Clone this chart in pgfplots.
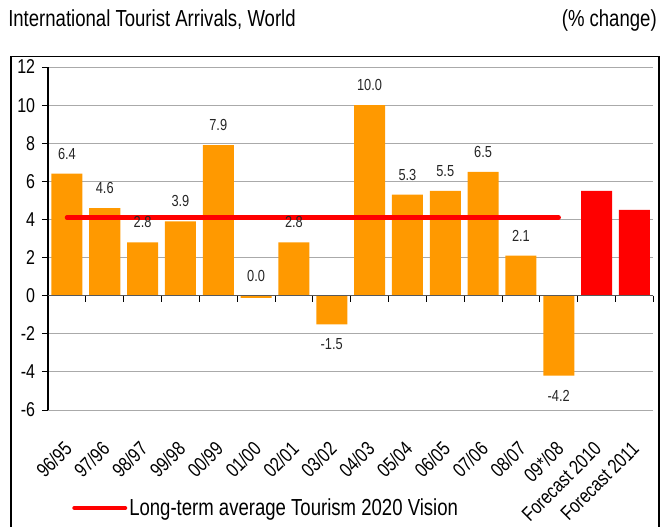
\documentclass[border=0pt]{standalone}
\usepackage{fontspec}
\setmainfont{Liberation Sans}[FakeStretch=0.8]
\usepackage{pgfplots}
\pgfplotsset{compat=1.18}
\usepackage{pgfplotstable}
\definecolor{barorange}{RGB}{255,153,0}
\definecolor{barred}{RGB}{255,0,0}
\definecolor{gridgray}{RGB}{170,170,170}

\pgfplotstableread{
x y lab
0 6.4 6.4
1 4.6 4.6
2 2.8 2.8
3 3.9 3.9
4 7.9 7.9
5 -0.12 0.0
6 2.8 2.8
7 -1.5 -1.5
8 10.0 10.0
9 5.3 5.3
10 5.5 5.5
11 6.5 6.5
12 2.1 2.1
13 -4.2 -4.2
}\arrivals
\pgfplotstableread{
x y
14 5.5
15 4.5
}\forecast
\pgfplotstableread{
x y
0 4.1
13 4.1
}\average

\begin{document}
\begin{tikzpicture}
\begin{axis}[
 at={(0,0)}, anchor=south west, scale only axis,
 width=454pt, height=257.25pt,
 xmin=-0.5, xmax=15.5, ymin=-6, ymax=12,
 ytick={-6,-4,...,12},
 xtick={0,...,15},
 xticklabels={96/95,97/96,98/97,99/98,00/99,01/00,02/01,03/02,04/03,05/04,06/05,07/06,08/07,09*/08,Forecast 2010,Forecast 2011},
 axis x line*=bottom, axis y line*=left,
 x axis line style={draw=none},
 y axis line style={black, line width=0.8pt},
 xtick style={draw=none},
 ytick style={black, line width=0.6pt},
 tick align=outside, major tick length=4.5pt,
 ymajorgrids, grid style={gridgray, line width=0.6pt},
 /pgf/number format/assume math mode=true,
 yticklabel style={font=\fontsize{15}{18}\selectfont, inner xsep=5pt},
 xticklabel style={font=\fontsize{15}{18}\selectfont, inner sep=0pt, xshift=-3pt, yshift=-18pt, rotate=45, anchor=north east},
 ybar, bar width=23.25pt, bar shift=0pt,
 clip=false,
 legend style={at={(0,0)}, anchor=west, xshift=18pt, yshift=-73.5pt, draw=none, fill=none, inner sep=0pt, font=\fontsize{17.4}{20}\selectfont, nodes={inner sep=1.5pt}},
 legend image code/.code={\draw[barred, line width=3.25pt, line cap=round] (1.6pt,0pt) -- (39.6pt,0pt);},
]
\addplot[fill=barorange, draw=none, forget plot] table[x=x,y=y]{\arrivals};
\addplot[fill=barred, draw=none, forget plot] table[x=x,y=y]{\forecast};
\addplot[draw=none, fill=none, forget plot,
  nodes near coords={\pgfmathprintnumber[fixed,fixed zerofill,precision=1]{\pgfplotspointmeta}},
  every node near coord/.append style={font=\fontsize{12}{14}\selectfont, text=black!85, inner xsep=0pt, inner ysep=10.5pt}]
  table[x=x,y=lab]{\arrivals};
\draw[black!65, line width=0.8pt] (axis cs:-0.5,0) -- (axis cs:15.5,0);
\pgfplotsinvokeforeach{-0.5,0.5,...,15.5}{\draw[black, line width=0.6pt] (axis cs:#1,0) -- ([yshift=-4.5pt]axis cs:#1,0);}
\addplot[barred, line width=3.25pt, line cap=round, sharp plot, mark=none] table[x=x,y=y]{\average};
\addlegendentry{Long-term average Tourism 2020 Vision}
\end{axis}
\node[anchor=base west, font=\fontsize{17.4}{20}\selectfont, inner sep=0pt] at (-30pt,287.25pt) {International Tourist Arrivals, World};
\node[anchor=base east, font=\fontsize{17.4}{20}\selectfont, inner sep=0pt] at (456.75pt,287.25pt) {(\% change)};
\draw[black, line width=0.9pt] (-27.75pt,-97.5pt) rectangle (458.25pt,265pt);
\pgfresetboundingbox
\useasboundingbox (-36pt,-87pt) rectangle (462pt,307.5pt);
\end{tikzpicture}
\end{document}
